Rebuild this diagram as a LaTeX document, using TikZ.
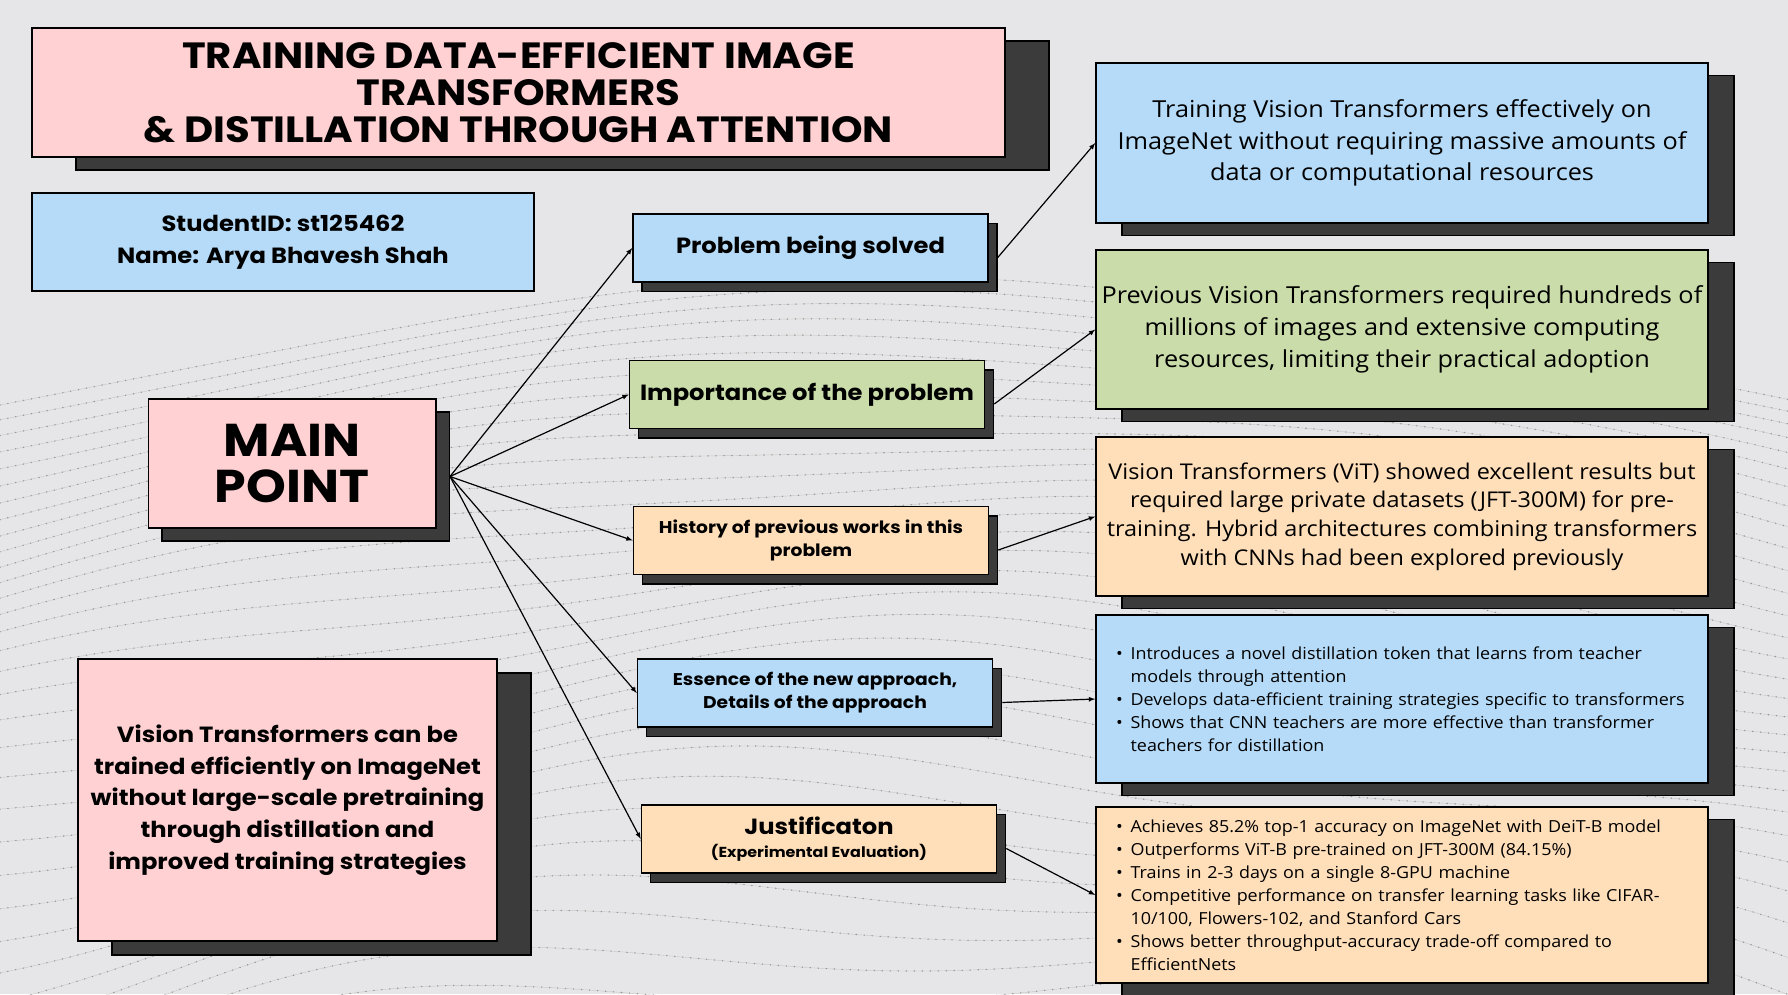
\documentclass[tikz,border=0pt]{standalone}
\usepackage{fontspec}
\setmainfont{Open Sans}[FakeStretch=1.08]
\newfontfamily\headfont{Poppins}[FakeStretch=1.1]
\usepackage{tikz}
\usetikzlibrary{arrows.meta,shadows}
\definecolor{bgcol}{HTML}{E6E6E8}
\definecolor{boxpink}{HTML}{FFD1D3}
\definecolor{boxblue}{HTML}{B5DBF8}
\definecolor{boxgreen}{HTML}{C9DCA9}
\definecolor{boxpeach}{HTML}{FFDFBA}
\definecolor{shadowgray}{HTML}{3B3B3B}
\tikzstyle{node:box}=[draw=black,line width=1.5pt,inner sep=0pt,align=center]
\tikzstyle{node:pink}=[node:box,fill=boxpink]
\tikzstyle{node:blue}=[node:box,fill=boxblue]
\tikzstyle{node:green}=[node:box,fill=boxgreen]
\tikzstyle{node:peach}=[node:box,fill=boxpeach]
\tikzstyle{node:topic}=[minimum width=355pt,minimum height=68pt,font={\headfont\bfseries\fontsize{22}{30}\selectfont}]
\tikzstyle{node:topicsmall}=[minimum width=355pt,minimum height=68pt,font={\headfont\bfseries\fontsize{17}{23}\selectfont}]
\tikzstyle{node:result}=[minimum width=612pt,font={\fontsize{23.4}{31.7}\selectfont}]
\tikzstyle{node:bullets}=[minimum width=612pt,text width=600pt,align=left,font={\fontsize{16.6}{23}\selectfont}]
\tikzstyle{shadow:title}=[copy shadow={shadow xshift=44pt,shadow yshift=-13pt,fill=shadowgray,draw=black,line width=1.5pt}]
\tikzstyle{shadow:main}=[copy shadow={shadow xshift=13.5pt,shadow yshift=-13pt,fill=shadowgray,draw=black,line width=1.5pt}]
\tikzstyle{shadow:small}=[copy shadow={shadow xshift=9pt,shadow yshift=-9.5pt,fill=shadowgray,draw=black,line width=1.5pt}]
\tikzstyle{shadow:result}=[copy shadow={shadow xshift=26pt,shadow yshift=-12.5pt,fill=shadowgray,draw=black,line width=1.5pt}]
\tikzstyle{shadow:big}=[copy shadow={shadow xshift=34pt,shadow yshift=-14pt,fill=shadowgray,draw=black,line width=1.5pt}]
\tikzstyle{draw:connection}=[-latex,line width=1.2pt]
\tikzstyle{draw:mesh}=[gray!60!black,line width=1.6pt,line cap=round,dash pattern=on 0pt off 8pt,opacity=0.45]
\tikzstyle{draw:meshline}=[gray,line width=0.4pt,opacity=0.3]
\newcommand{\bul}{\hspace*{14pt}\makebox[14.6pt][l]{\textbullet}}
\newcommand{\bsp}{\hspace*{28.6pt}}

\begin{document}
\begin{tikzpicture}[x=1pt,y=-1pt]
        % Background
        \fill[bgcol] (0,0) rectangle (1788,994);
        \useasboundingbox (0,0) rectangle (1788,994);
        \begin{scope}
            \clip (0,0) rectangle (1788,994);
            \foreach \i in {0,...,32} {
                    \draw[draw:meshline] plot[domain=0:1788,samples=60,smooth] (\x,{405-125*sin(0.1*\x)+13*\i+0.3*\i*\i+(4+0.9*\i)*sin(0.33*\x+17*\i)});
                    \draw[draw:mesh] plot[domain=0:1788,samples=60,smooth] (\x,{405-125*sin(0.1*\x)+13*\i+0.3*\i*\i+(4+0.9*\i)*sin(0.33*\x+17*\i)});
                }
        \end{scope}

        % Title and student
        \node[node:pink,shadow:title,minimum width=973pt,minimum height=129pt,font={\headfont\bfseries\fontsize{36.5}{37}\selectfont}] (title) at (518.5,92.5) {TRAINING DATA-EFFICIENT IMAGE\\TRANSFORMERS\\\& DISTILLATION THROUGH ATTENTION};
        \node[node:blue,minimum width=502pt,minimum height=98pt,font={\headfont\bfseries\fontsize{22}{31.7}\selectfont}] (student) at (283,242) {StudentID: st125462\\Name: Arya Bhavesh Shah};

        % Main point and summary
        \node[node:pink,shadow:main,minimum width=287.5pt,minimum height=129pt,font={\headfont\bfseries\fontsize{46}{46}\selectfont}] (main) at (292,463.5) {MAIN\\POINT};
        \node[node:pink,shadow:big,minimum width=419pt,minimum height=282pt,font={\headfont\bfseries\fontsize{22}{31.7}\selectfont}] (summary) at (287.5,800) {Vision Transformers can be\\trained efficiently on ImageNet\\without large-scale pretraining\\through distillation and\\improved training strategies};

        % Topics
        \node[node:blue,node:topic,shadow:small] (prob) at (810.5,248) {Problem being solved};
        \node[node:green,node:topic,shadow:small] (imp) at (807,394.5) {Importance of the problem};
        \node[node:peach,node:topicsmall,shadow:small] (hist) at (811,540.5) {History of previous works in this\\problem};
        \node[node:blue,node:topicsmall,shadow:small] (ess) at (815,693) {Essence of the new approach,\\Details of the approach};
        \node[node:peach,node:topic,shadow:small] (just) at (819,839) {Justificaton\\[-7pt]{\fontsize{14.5}{18}\selectfont (Experimental Evaluation)}};

        % Results
        \node[node:blue,node:result,shadow:result,minimum height=160pt] (res1) at (1402,143) {Training Vision Transformers effectively on\\ImageNet without requiring massive amounts of\\data or computational resources};
        \node[node:green,node:result,shadow:result,minimum height=159pt] (res2) at (1402,329.5) {Previous Vision Transformers required hundreds of\\millions of images and extensive computing\\resources, limiting their practical adoption};
        \node[node:peach,node:result,shadow:result,minimum height=159pt,font={\fontsize{21.7}{28.7}\selectfont}] (res3) at (1402,516.5) {Vision Transformers (ViT) showed excellent results but\\required large private datasets (JFT-300M) for pre-\\training. Hybrid architectures combining transformers\\with CNNs had been explored previously};
        \node[node:blue,node:bullets,shadow:result,minimum height=168pt] (res4) at (1402,699) {\bul Introduces a novel distillation token that learns from teacher\\\bsp models through attention\\\bul Develops data-efficient training strategies specific to transformers\\\bul Shows that CNN teachers are more effective than transformer\\\bsp teachers for distillation};
        \node[node:peach,node:bullets,shadow:result,minimum height=176pt] (res5) at (1402,895) {\bul Achieves 85.2\% top-1 accuracy on ImageNet with DeiT-B model\\\bul Outperforms ViT-B pre-trained on JFT-300M (84.15\%)\\\bul Trains in 2-3 days on a single 8-GPU machine\\\bul Competitive performance on transfer learning tasks like CIFAR-\\\bsp 10/100, Flowers-102, and Stanford Cars\\\bul Shows better throughput-accuracy trade-off compared to\\\bsp EfficientNets};

        % Connections from main point to topics
        \coordinate (main-out) at ([xshift=13.5pt,yshift=-13pt]main.east);
        \foreach \t in {prob,imp,hist,ess,just} {
                \draw[draw:connection] (main-out) -- (\t.west);
            }

        % Connections from topics to results
        \foreach \t/\r in {prob/res1,imp/res2,hist/res3,ess/res4,just/res5} {
                \draw[draw:connection] ([xshift=9pt,yshift=-9.5pt]\t.east) -- (\r.west);
            }

    \end{tikzpicture}
\end{document}
